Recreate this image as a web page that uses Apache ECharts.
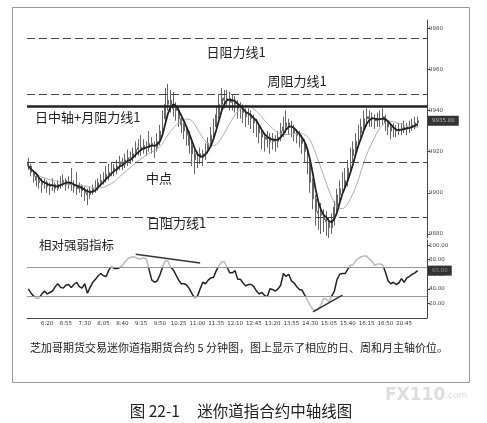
<!DOCTYPE html>
<html><head><meta charset="utf-8">
<script src="https://cdn.jsdelivr.net/npm/echarts@6/dist/echarts.min.js"></script>
<style>html,body{margin:0;padding:0;background:#fff}#c{width:487px;height:423px}</style>
</head><body><div id="c"></div>
<script>
// ---- data ----
const timeLabels = ['6:20','6:55','7:30','8:05','8:40','9:15','9:50','10:25','11:00','11:35','12:10','12:45','13:20','13:55','14:30','15:05','15:40','16:15','16:50','20:45'];
const slotCount = 149;      // category slots on the time axis (last few empty)
const firstLabelSlot = 7;   // slot of the first time label
const labelEvery = 7;       // one label every 7 five-minute bars

const close = [9913,9910,9908,9906,9905,9904,9905,9903,9903,9904,
9902,9904,9905,9906,9904,9905,9904,9903,9902,9903,
9901,9900,9899,9901,9902,9903,9905,9906,9907,9909,
9910,9912,9911,9913,9915,9914,9916,9917,9917,9919,
9921,9922,9921,9923,9922,9924,9923,9922,9925,9930,
9936,9943,9945,9943,9941,9940,9936,9933,9930,9928,
9923,9919,9916,9917,9919,9918,9921,9924,9928,9932,
9938,9943,9946,9945,9946,9944,9945,9943,9941,9940,
9939,9937,9938,9936,9934,9932,9929,9927,9926,9927,
9925,9926,9925,9927,9930,9932,9934,9932,9931,9929,
9928,9926,9924,9920,9914,9905,9897,9891,9890,9889,
9887,9886,9883,9887,9893,9899,9902,9904,9906,9912,
9918,9921,9925,9929,9932,9936,9937,9936,9936,9935,
9936,9936,9937,9934,9932,9930,9931,9930,9931,9931,
9932,9931,9932,9933,9934,9935];
const firstOpen = 9915;
const high = [9917,9914,9911,9909,9908,9907,9907,9906,9905,9907,
9905,9906,9908,9909,9907,9908,9912,9906,9910,9905,
9904,9903,9902,9903,9904,9906,9907,9909,9910,9913,
9914,9915,9914,9916,9918,9917,9919,9921,9920,9922,
9925,9926,9928,9926,9925,9930,9927,9925,9929,9933,
9940,9951,9953,9950,9949,9944,9942,9938,9934,9932,
9930,9925,9921,9920,9922,9921,9924,9927,9932,9936,
9942,9948,9951,9950,9950,9949,9948,9947,9945,9944,
9943,9941,9941,9940,9938,9936,9933,9931,9929,9930,
9929,9929,9928,9930,9934,9937,9940,9936,9935,9933,
9931,9930,9928,9926,9922,9916,9907,9899,9895,9895,
9892,9891,9888,9890,9896,9902,9906,9910,9912,9916,
9922,9925,9929,9933,9936,9940,9941,9940,9939,9938,
9939,9940,9941,9938,9935,9934,9934,9933,9934,9934,
9935,9934,9935,9936,9937,9937];
const low = [9911,9908,9905,9903,9902,9900,9902,9900,9899,9901,
9900,9901,9902,9903,9901,9902,9901,9900,9899,9900,
9898,9896,9894,9897,9899,9900,9901,9903,9904,9905,
9906,9908,9908,9909,9911,9911,9912,9913,9914,9915,
9917,9918,9918,9919,9918,9920,9919,9917,9920,9923,
9928,9934,9940,9939,9937,9935,9932,9929,9926,9923,
9919,9913,9909,9912,9914,9913,9916,9919,9922,9926,
9930,9936,9940,9941,9942,9940,9940,9939,9936,9936,
9934,9932,9933,9931,9929,9927,9924,9921,9920,9922,
9919,9921,9920,9922,9925,9927,9929,9928,9927,9925,
9924,9922,9919,9915,9909,9900,9892,9884,9882,9880,
9881,9879,9878,9880,9884,9890,9896,9899,9901,9903,
9909,9915,9918,9922,9926,9929,9932,9932,9932,9931,
9932,9932,9933,9930,9928,9926,9927,9927,9928,9928,
9929,9928,9929,9930,9931,9932];
const rsi = [40,34,30,27,27,33,37,33,35,37,
43,47,42,41,45,46,42,46,49,43,
41,47,34,42,49,53,58,61,58,57,
66,71,68,68,69,72,77,81,83,84,
83,81,81,83,80,66,52,49,51,59,
70,79,78,70,66,59,52,47,47,45,
40,33,27,30,40,49,47,52,55,56,
65,72,77,77,70,62,62,65,53,53,
48,44,46,46,43,37,33,35,31,29,
40,39,37,40,45,61,57,60,51,48,
43,39,38,31,24,17,12,10,12,18,
27,26,22,30,37,53,60,61,61,67,
72,73,79,82,84,85,85,81,78,72,
74,74,73,63,51,47,49,46,48,54,
49,55,57,60,62,65];

const levelDashed = [9975, 9948, 9915, 9888];   // 日阻力线1, 周阻力线1, 中点, 日阻力线1
const levelSolid = [9942];                       // 日中轴+月阻力线1
const rsiBands = [70, 30];
const rsiTrendA = [[40, 87.5], [64, 75.5]];
const rsiTrendB = [[106, 8.5], [117, 31.5]];
const priceTicks = [9880, 9900, 9920, 9940, 9960, 9980];
const rsiTicks = [20, 40, 60, 80, 100];
const fastMA = 4, slowMA = 12;

// ---- build ----
const categories = Array.from({length: slotCount}, (_, i) => String(i));
const ohlc = close.map((c, i) => [i === 0 ? firstOpen : close[i - 1], c, low[i], high[i]]);
function ma(n) {
  return close.map((_, i) => {
    const s = Math.max(0, i - n + 1);
    let sum = 0;
    for (let k = s; k <= i; k++) sum += close[k];
    return +(sum / (i - s + 1)).toFixed(2);
  });
}
const isLabel = (i) => i >= firstLabelSlot && (i - firstLabelSlot) % labelEvery === 0;
const FONT = '"Noto Sans CJK SC", "Noto Sans", sans-serif';
const CLEAR = 'rgba(0,0,0,0)';

const chart = echarts.init(document.getElementById('c'), null, {renderer: 'canvas'});
chart.setOption({
  backgroundColor: '#fff',
  animation: false,
  grid: [
    {left: 27, right: 60, top: 20, height: 218},
    {left: 27, right: 60, top: 240, height: 78}
  ],
  xAxis: [
    {type: 'category', gridIndex: 0, data: categories, show: false},
    {type: 'category', gridIndex: 1, data: categories,
     axisLine: {lineStyle: {color: '#444', width: 1}},
     axisTick: {interval: (i) => isLabel(i), alignWithLabel: true, length: 2, lineStyle: {color: '#444'}},
     axisLabel: {interval: (i) => isLabel(i), formatter: (v, i) => timeLabels[(i - firstLabelSlot) / labelEvery] || '',
                 fontSize: 5.5, color: '#333', margin: 3, fontFamily: 'DejaVu Sans'},
     splitLine: {show: false}}
  ],
  yAxis: [
    {type: 'value', gridIndex: 0, position: 'right', min: 9878, max: 9984,
     axisLine: {show: true, lineStyle: {color: '#444'}},
     axisTick: {show: true, customValues: priceTicks, length: 3, lineStyle: {color: '#444'}},
     axisLabel: {customValues: priceTicks, formatter: (v) => String(v), fontSize: 5.5, color: '#444', margin: 2, fontFamily: 'DejaVu Sans'},
     splitLine: {show: false}},
    {type: 'value', gridIndex: 1, position: 'right', min: 0, max: 107,
     axisLine: {show: true, lineStyle: {color: '#444'}},
     axisTick: {show: true, customValues: rsiTicks, length: 3, lineStyle: {color: '#444'}},
     axisLabel: {customValues: rsiTicks, formatter: (v) => v.toFixed(2), fontSize: 5.5, color: '#444', margin: 2, fontFamily: 'DejaVu Sans'},
     splitLine: {show: false}}
  ],
  visualMap: {show: false, seriesIndex: 3, dimension: 1,
    pieces: [{lt: 30, color: '#bbb'}, {gte: 30, lte: 70, color: '#222'}, {gt: 70, color: '#bbb'}]},
  series: [
    {type: 'candlestick', xAxisIndex: 0, yAxisIndex: 0, data: ohlc, barMaxWidth: 1.4,
     itemStyle: {color: '#777', color0: '#777', borderColor: '#666', borderColor0: '#666', borderWidth: 1},
     markLine: {silent: true, symbol: 'none', animation: false,
       data: [
         ...levelDashed.map(v => ({yAxis: v, lineStyle: {type: [8, 4], color: '#444', width: 1}, label: {show: false}})),
         ...levelSolid.map(v => ({yAxis: v, lineStyle: {type: 'solid', color: '#222', width: 2.5}, label: {show: false}})),
         {yAxis: close[close.length - 1], lineStyle: {color: CLEAR, width: 0.01},
          label: {show: true, position: 'end', distance: 1, formatter: () => close[close.length - 1].toFixed(2),
                  backgroundColor: '#333', color: '#bbb', fontSize: 5.5, padding: [2, 4], fontFamily: 'DejaVu Sans'}}
       ]}},
    {type: 'line', xAxisIndex: 0, yAxisIndex: 0, data: ma(fastMA), symbol: 'none', smooth: false,
     lineStyle: {color: '#222', width: 1.8}, z: 4},
    {type: 'line', xAxisIndex: 0, yAxisIndex: 0, data: ma(slowMA), symbol: 'none', smooth: true,
     lineStyle: {color: '#aaa', width: 1}, z: 3},
    {type: 'line', xAxisIndex: 1, yAxisIndex: 1, data: rsi, symbol: 'none',
     lineStyle: {width: 1.5},
     markLine: {silent: true, symbol: 'none', animation: false,
       data: [
         ...rsiBands.map(v => ({yAxis: v, lineStyle: {type: 'solid', color: '#999', width: 1}, label: {show: false}})),
         [{coord: rsiTrendA[0], lineStyle: {type: 'solid', color: '#333', width: 1.5}, label: {show: false}}, {coord: rsiTrendA[1]}],
         [{coord: rsiTrendB[0], lineStyle: {type: 'solid', color: '#333', width: 1.5}, label: {show: false}}, {coord: rsiTrendB[1]}],
         {yAxis: rsi[rsi.length - 1], lineStyle: {color: CLEAR, width: 0.01},
          label: {show: true, position: 'end', distance: 1, formatter: () => rsi[rsi.length - 1].toFixed(2),
                  backgroundColor: '#333', color: '#888', fontSize: 5.5, padding: [2, 4], fontFamily: 'DejaVu Sans'}}
       ]}}
  ],
  graphic: [
    {type: 'rect', shape: {x: 12.5, y: 7.5, width: 457, height: 375}, style: {fill: 'none', stroke: '#999', lineWidth: 1}, silent: true},
    {type: 'text', x: 236, y: 52, style: {text: '日阻力线1', font: '13px ' + FONT, fill: '#222', align: 'center', verticalAlign: 'middle'}},
    {type: 'text', x: 297, y: 81, style: {text: '周阻力线1', font: '13px ' + FONT, fill: '#222', align: 'center', verticalAlign: 'middle'}},
    {type: 'text', x: 35, y: 117, style: {text: '日中轴+月阻力线1', font: '13px ' + FONT, fill: '#222', align: 'left', verticalAlign: 'middle'}},
    {type: 'text', x: 146, y: 178, style: {text: '中点', font: '13px ' + FONT, fill: '#222', align: 'left', verticalAlign: 'middle'}},
    {type: 'text', x: 147, y: 223, style: {text: '日阻力线1', font: '13px ' + FONT, fill: '#222', align: 'left', verticalAlign: 'middle'}},
    {type: 'text', x: 39, y: 245, style: {text: '相对强弱指标', font: '12.5px ' + FONT, fill: '#222', align: 'left', verticalAlign: 'middle'}},
    {type: 'text', x: 30, y: 348, style: {text: '芝加哥期货交易迷你道指期货合约 5 分钟图，图上显示了相应的日、周和月主轴价位。', font: '11px ' + FONT, fill: '#222', align: 'left', verticalAlign: 'middle'}},
    {type: 'text', x: 241, y: 411, style: {text: '图 22-1     迷你道指合约中轴线图', font: '15.5px ' + FONT, fill: '#222', align: 'center', verticalAlign: 'middle'}},
    {type: 'text', x: 385, y: 396, style: {rich: {a: {fontSize: 17, fontWeight: 'bold', fill: '#ddd', fontFamily: 'DejaVu Sans'}, b: {fontSize: 9, fill: '#ddd', fontFamily: 'DejaVu Sans'}}, text: '{a|FX110}{b|.com}', verticalAlign: 'middle'}}
  ]
});
</script></body></html>
